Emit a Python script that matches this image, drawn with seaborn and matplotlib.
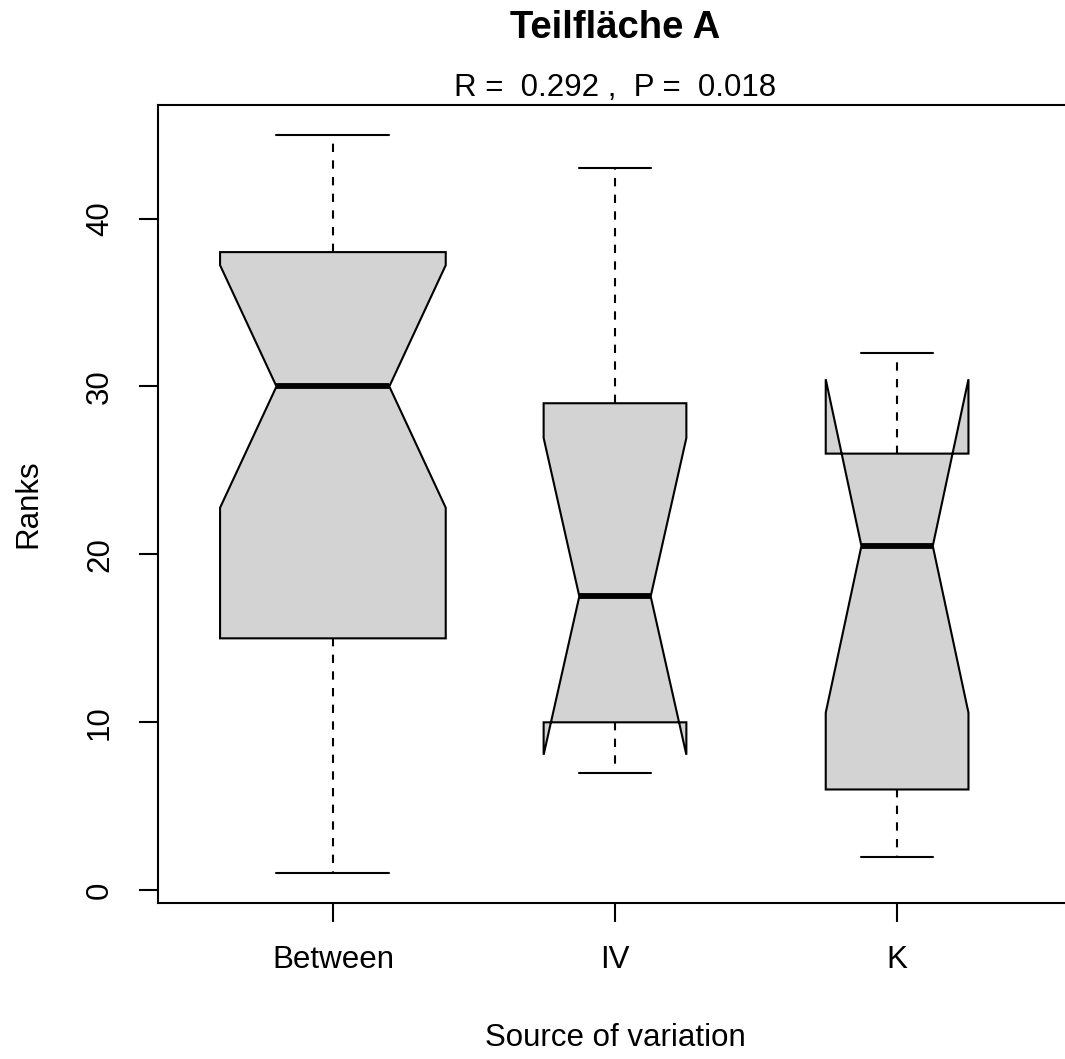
import matplotlib
matplotlib.use("Agg")
import matplotlib.pyplot as plt
import seaborn as sns
import numpy as np
import pandas as pd

groups = ["Between", "IV", "K"]
between_ranks = [1, 3, 5, 9, 11, 13, 15, 19, 21, 24, 25, 27, 30,
                 31, 33, 34, 36, 37, 38, 39, 40, 41, 42, 44, 45]
iv_ranks = [7, 8, 10, 10, 15, 20, 29, 29, 35, 43]
k_ranks = [2, 4, 6, 6, 18, 23, 26, 26, 30, 32]
y_ticks = [0, 10, 20, 30, 40]

title = "Teilfläche A"
subtitle = "R =  0.292 ,  P =  0.018"

df = pd.DataFrame({
    "group": ["Between"] * len(between_ranks) + ["IV"] * len(iv_ranks) + ["K"] * len(k_ranks),
    "rank": between_ranks + iv_ranks + k_ranks,
})

# box width grows with sqrt(n), like R's varwidth=TRUE
counts = np.array([len(between_ranks), len(iv_ranks), len(k_ranks)])
box_widths = 0.8 * np.sqrt(counts / counts.max())

sns.set_style("white")
plt.rcParams["font.family"] = ["Liberation Sans", "DejaVu Sans"]

W, H = 1065, 1059
fig = plt.figure(figsize=(W / 100, H / 100), dpi=100)
ax = fig.add_axes([158 / W, 156 / H, 914 / W, 798 / H])

sns.boxplot(
    data=df, x="group", y="rank", order=groups, ax=ax,
    color="#D3D3D3", linecolor="black", linewidth=1.5, width=0.8,
    notch=True, showfliers=False,
    widths=list(box_widths), capwidths=list(box_widths * 0.5),
    medianprops=dict(linewidth=4.2, color="black", solid_capstyle="butt"),
    whiskerprops=dict(linestyle=(0, (4, 4)), linewidth=1.5, color="black"),
    capprops=dict(linewidth=1.5, color="black"),
    boxprops=dict(linewidth=1.5, edgecolor="black"),
)

ax.set_xlim(-0.62, 2.62)
ax.set_ylim(-0.76, 46.76)
ax.set_yticks(y_ticks)
ax.set_yticklabels([str(t) for t in y_ticks], rotation=90, va="center")

for s in ax.spines.values():
    s.set_visible(True)
    s.set_color("black")
    s.set_linewidth(1.5)

ax.tick_params(axis="both", direction="out", length=14, width=1.5,
               color="black", labelsize=22.5, labelcolor="black")
ax.tick_params(axis="x", pad=16, bottom=True)
ax.tick_params(axis="y", pad=17, left=True)

ax.set_xlabel("Source of variation", fontsize=22.5, color="black")
ax.set_ylabel("Ranks", fontsize=22.5, color="black")
ax.xaxis.set_label_coords(0.5, -0.169)
ax.xaxis.label.set_va("center")
ax.yaxis.set_label_coords(-0.142, 0.5)
ax.yaxis.label.set_va("center")

fig.text(615 / W, 1 - 28 / H, title, ha="center", va="center",
         fontsize=27.5, fontweight="bold", color="black")
fig.text(615 / W, 1 - 88 / H, subtitle, ha="center", va="center",
         fontsize=22.5, color="black")

fig.savefig("out.png", dpi=100, facecolor="white")
